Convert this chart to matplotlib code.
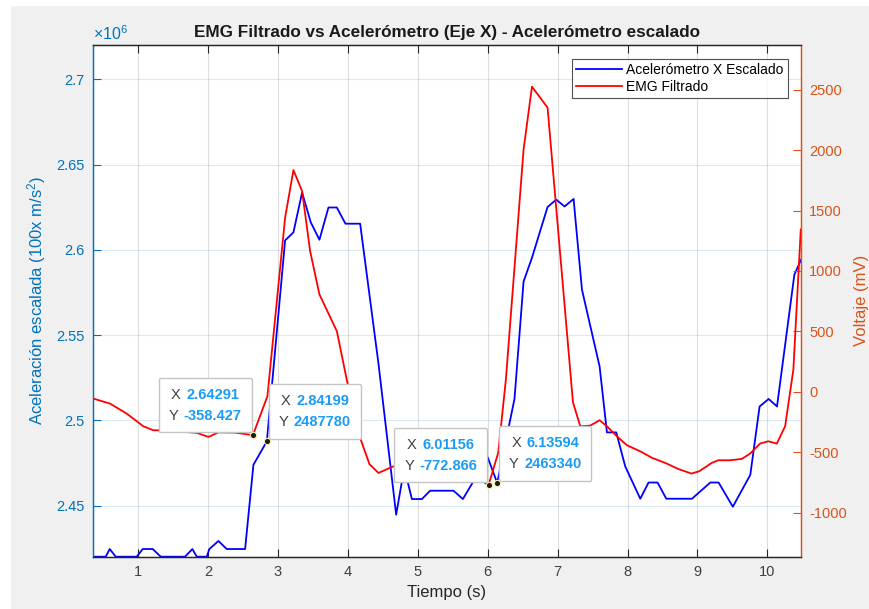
import numpy as np
import matplotlib.pyplot as plt
from matplotlib.patches import Rectangle
from matplotlib.ticker import FuncFormatter
from matplotlib.offsetbox import TextArea, HPacker, VPacker, AnnotationBbox

plt.rcParams['font.family'] = ['Liberation Sans', 'DejaVu Sans']
plt.rcParams['mathtext.fontset'] = 'custom'
plt.rcParams['mathtext.rm'] = 'Liberation Sans'
plt.rcParams['mathtext.it'] = 'Liberation Sans:italic'
plt.rcParams['axes.unicode_minus'] = False

# acelerometro (eje X) escalado, tiempo en s
t_acc = [0.356, 0.538, 0.595, 0.681, 0.981, 1.067, 1.210, 1.325, 1.672, 1.777,
         1.840, 1.983, 2.020, 2.149, 2.269, 2.531, 2.650, 2.84199, 3.103, 3.222,
         3.346, 3.471, 3.594, 3.723, 3.843, 3.966, 4.176, 4.437, 4.691, 4.773,
         4.820, 4.916, 5.059, 5.177, 5.511, 5.645, 6.000, 6.13594, 6.383, 6.513,
         6.632, 6.856, 6.980, 7.099, 7.228, 7.348, 7.600, 7.705, 7.838, 7.967,
         8.182, 8.300, 8.429, 8.554, 8.921, 9.183, 9.302, 9.505, 9.755, 9.888,
         10.017, 10.137, 10.385, 10.481]
acc = [2420100, 2420100, 2424600, 2420100, 2420100, 2424600, 2424600, 2420100,
       2420100, 2424600, 2420100, 2420100, 2424600, 2429300, 2424600, 2424600,
       2474000, 2487780, 2605600, 2610300, 2633700, 2616100, 2606000, 2624900,
       2624900, 2615400, 2615400, 2533700, 2444700, 2464200, 2469900, 2453900,
       2453900, 2458800, 2458800, 2453900, 2478400, 2463340, 2512600, 2581500,
       2595300, 2625200, 2629500, 2625500, 2629900, 2576700, 2531700, 2493000,
       2493000, 2473000, 2454100, 2463600, 2463600, 2454100, 2454100, 2463600,
       2463600, 2449400, 2468100, 2508200, 2512600, 2508200, 2585500, 2594300]

# EMG filtrado en mV
t_emg = [0.356, 0.599, 0.838, 1.076, 1.219, 1.362, 1.601, 1.840, 2.006, 2.149,
         2.387, 2.64291, 2.850, 3.103, 3.222, 3.346, 3.461, 3.594, 3.843, 3.990,
         4.176, 4.309, 4.438, 4.652, 5.034, 5.535, 5.893, 6.01156, 6.150, 6.260,
         6.513, 6.633, 6.856, 7.219, 7.324, 7.466, 7.600, 7.705, 7.848, 7.991,
         8.181, 8.349, 8.539, 8.725, 8.912, 9.025, 9.203, 9.298, 9.466, 9.633,
         9.752, 9.895, 10.013, 10.134, 10.253, 10.371, 10.477]
emg = [-55, -97, -180, -285, -318, -318, -329, -339, -373, -335,
       -337, -358.427, -36, 1441, 1835, 1661, 1164, 806, 502, 85,
       -381, -598, -671, -616, -643, -685, -726, -772.866, -505, 102,
       2006, 2525, 2352, -86, -285, -279, -235, -285, -368, -442,
       -492, -546, -588, -638, -676, -657, -588, -566, -566, -555,
       -511, -428, -409, -428, -285, 185, 1344]

acc_ticks = [2.45e6, 2.5e6, 2.55e6, 2.6e6, 2.65e6, 2.7e6]
emg_ticks = [-1000, -500, 0, 500, 1000, 1500, 2000, 2500]
x_ticks = [1, 2, 3, 4, 5, 6, 7, 8, 9, 10]

C_LEFT = '#0072BD'
C_RIGHT = '#D95319'
C_AX = '#262626'

fig = plt.figure(figsize=(8.69, 6.09), dpi=100)
fig.patch.set_facecolor('white')
fig.patches.append(Rectangle((11 / 869, 0), 1, 1 - 6 / 609, transform=fig.transFigure,
                             facecolor='#f0f0f0', edgecolor='none', zorder=-10))

ax = fig.add_axes([93 / 869, 52.3 / 609, 708 / 869, 511.7 / 609])
ax.set_facecolor('white')
ax2 = ax.twinx()

ax.plot(t_acc, acc, color='#0000ff', lw=1.3, label='Acelerómetro X Escalado')
ax2.plot(t_emg, emg, color='#ff0000', lw=1.3, label='EMG Filtrado')

ax.set_xlim(0.356, 10.48)
ax.set_ylim(2420100, 2720200)
ax2.set_ylim(-1364, 2870)

ax.set_xticks(x_ticks)
ax.set_yticks(acc_ticks)
ax.yaxis.set_major_formatter(FuncFormatter(lambda v, p: f'{v / 1e6:g}'))
ax2.set_yticks(emg_ticks)

ax.tick_params(axis='x', direction='in', top=True, length=5.5, width=0.8,
               colors=C_AX, labelsize=10.5, pad=6)
ax.tick_params(axis='y', direction='in', length=5.5, width=0.8, colors=C_LEFT,
               labelsize=10.5, pad=6)
ax2.tick_params(axis='y', direction='in', length=5.5, width=0.8, colors=C_RIGHT,
                labelsize=10.5, pad=6)
for lab in ax.get_xticklabels():
    lab.set_color('#404040')

ax.grid(True, axis='x', color='#262626', alpha=0.15, lw=0.8)
ax.grid(True, axis='y', color=C_LEFT, alpha=0.15, lw=0.8)
ax.set_axisbelow(True)

for a in (ax, ax2):
    a.spines['top'].set_color(C_AX)
    a.spines['bottom'].set_color(C_AX)
    a.spines['left'].set_color(C_LEFT)
    a.spines['right'].set_color(C_RIGHT)
    for s in a.spines.values():
        s.set_linewidth(0.9)

ax.set_xlabel('Tiempo (s)', fontsize=12, color='#262626', labelpad=4)
ax.set_ylabel('Aceleración escalada (100x m/s$^{2}$)', fontsize=12, color=C_LEFT, labelpad=6)
ax2.set_ylabel('Voltaje (mV)', fontsize=12, color=C_RIGHT, labelpad=5)
ax.set_title('EMG Filtrado vs Acelerómetro (Eje X) - Acelerómetro escalado',
             fontsize=12.3, fontweight='bold', color='#1a1a1a', pad=6)
ax.text(0, 1.004, r'$\times10^{6}$', transform=ax.transAxes, color=C_LEFT,
        fontsize=11.5, ha='left', va='bottom')

h1, l1 = ax.get_legend_handles_labels()
h2, l2 = ax2.get_legend_handles_labels()
leg = ax2.legend(h1 + h2, l1 + l2, loc='upper right',
                 bbox_to_anchor=(1 - 13 / 708, 1 - 14 / 511.7), borderaxespad=0,
                 fontsize=10, frameon=True, fancybox=False, handlelength=3.3,
                 handletextpad=0.3, borderpad=0.3, labelspacing=0.2)
leg.get_frame().set_edgecolor('#262626')
leg.get_frame().set_linewidth(0.8)


def fmt(v):
    return f'{v:.0f}' if abs(v) >= 1e5 else f'{v:.6g}'


# data tips: (eje, x, y, alineacion de la caja, desplazamiento en pt)
tips = [(ax2, 2.64291, -358.427, (1, 0), (-1, 2)),
        (ax, 2.84199, 2487780, (0, 0), (1.5, 2)),
        (ax2, 6.01156, -772.866, (1, 0), (-1, 2)),
        (ax, 6.13594, 2463340, (0, 0), (1.5, 1.5))]

for host, xv, yv, align, off in tips:
    rows = []
    for name, val in (('X', xv), ('Y', yv)):
        rows.append(HPacker(children=[
            TextArea(name, textprops=dict(color='#404040', fontsize=10.5)),
            TextArea(fmt(val), textprops=dict(color='#1a9cf5', fontsize=10.5,
                                              fontweight='bold'))],
            align='baseline', pad=0, sep=4))
    box = VPacker(children=rows, align='center', pad=7, sep=5)
    ab = AnnotationBbox(box, (xv, yv), xycoords=host.transData, xybox=off,
                        boxcoords='offset points', box_alignment=align, pad=0,
                        frameon=True,
                        bboxprops=dict(boxstyle='round,pad=0,rounding_size=0.12',
                                       fc='white', ec='#c4c4c4', lw=1))
    ab.set_zorder(5)
    ax2.add_artist(ab)
    ax2.plot([xv], [yv], 'o', ms=4.5, mfc='#1a1a1a', mec='#f3eeb0', mew=0.8,
             zorder=6, transform=host.transData)

fig.savefig('out.png', dpi=100)
